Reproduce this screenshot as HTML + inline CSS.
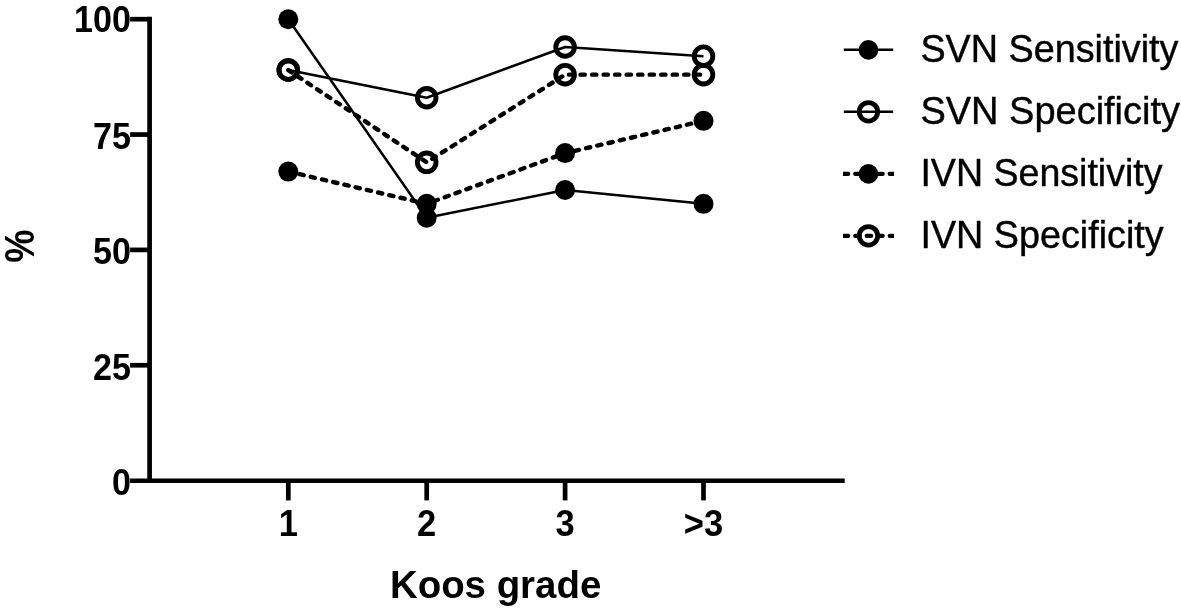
<!DOCTYPE html>
<html lang="en"><head><meta charset="utf-8"><title>Koos grade chart</title>
<style>html,body{margin:0;padding:0;background:#fff;}svg{display:block;}</style></head>
<body>
<svg width="1181" height="612" viewBox="0 0 1181 612">
<rect width="1181" height="612" fill="#fff"/>
<defs><clipPath id="lc"><rect x="842.9" y="0" width="51.1" height="612"/></clipPath></defs>
<g stroke="#000" stroke-width="4.7" fill="none" stroke-linecap="butt">
<line x1="149.6" y1="16.85" x2="149.6" y2="483.1"/>
<line x1="130.1" y1="480.75" x2="844.7" y2="480.75"/>
<line x1="130.1" y1="19.2" x2="149.6" y2="19.2"/>
<line x1="130.1" y1="134.55" x2="149.6" y2="134.55"/>
<line x1="130.1" y1="249.9" x2="149.6" y2="249.9"/>
<line x1="130.1" y1="365.25" x2="149.6" y2="365.25"/>
<line x1="288.3" y1="480.75" x2="288.3" y2="500.4"/>
<line x1="426.7" y1="480.75" x2="426.7" y2="500.4"/>
<line x1="565.1" y1="480.75" x2="565.1" y2="500.4"/>
<line x1="703.5" y1="480.75" x2="703.5" y2="500.4"/>
</g>
<polyline points="288.3,19.3 426.7,217.7 565.1,190.02 703.5,203.86" fill="none" stroke="#000" stroke-width="2.5" stroke-linejoin="round"/>
<polyline points="288.3,70.05 426.7,97.74 565.1,46.98 703.5,56.21" fill="none" stroke="#000" stroke-width="2.5" stroke-linejoin="round"/>
<polyline points="288.3,171.56 426.7,203.86 565.1,153.11 703.5,120.81" fill="none" stroke="#000" stroke-width="4.4" stroke-linecap="round" stroke-linejoin="round" stroke-dasharray="4.3 7.22"/>
<polyline points="288.3,70.05 426.7,162.33 565.1,74.67 703.5,74.67" fill="none" stroke="#000" stroke-width="4.4" stroke-linecap="round" stroke-linejoin="round" stroke-dasharray="4.3 7.22"/>
<circle cx="288.3" cy="19.3" r="10" fill="#000"/>
<circle cx="426.7" cy="217.7" r="10" fill="#000"/>
<circle cx="565.1" cy="190.02" r="10" fill="#000"/>
<circle cx="703.5" cy="203.86" r="10" fill="#000"/>
<circle cx="288.3" cy="70.05" r="9.3" fill="none" stroke="#000" stroke-width="4.9"/>
<circle cx="426.7" cy="97.74" r="9.3" fill="none" stroke="#000" stroke-width="4.9"/>
<circle cx="565.1" cy="46.98" r="9.3" fill="none" stroke="#000" stroke-width="4.9"/>
<circle cx="703.5" cy="56.21" r="9.3" fill="none" stroke="#000" stroke-width="4.9"/>
<circle cx="288.3" cy="171.56" r="10" fill="#000"/>
<circle cx="426.7" cy="203.86" r="10" fill="#000"/>
<circle cx="565.1" cy="153.11" r="10" fill="#000"/>
<circle cx="703.5" cy="120.81" r="10" fill="#000"/>
<circle cx="288.3" cy="70.05" r="9.3" fill="none" stroke="#000" stroke-width="4.9"/>
<circle cx="426.7" cy="162.33" r="9.3" fill="none" stroke="#000" stroke-width="4.9"/>
<circle cx="565.1" cy="74.67" r="9.3" fill="none" stroke="#000" stroke-width="4.9"/>
<circle cx="703.5" cy="74.67" r="9.3" fill="none" stroke="#000" stroke-width="4.9"/>
<g font-family="'Liberation Sans', Arial, Helvetica, sans-serif" font-weight="bold" font-size="35" fill="#000">
<text transform="translate(131,32.4) scale(0.975,1.065)" text-anchor="end">100</text>
<text transform="translate(131,149.05) scale(0.975,1.065)" text-anchor="end">75</text>
<text transform="translate(131,263.5) scale(0.975,1.065)" text-anchor="end">50</text>
<text transform="translate(131,379.65) scale(0.975,1.065)" text-anchor="end">25</text>
<text transform="translate(131,494.7) scale(0.975,1.065)" text-anchor="end">0</text>
<text transform="translate(288.3,535.5) scale(0.985,1.05)" text-anchor="middle">1</text>
<text transform="translate(426.7,535.5) scale(0.985,1.05)" text-anchor="middle">2</text>
<text transform="translate(565.1,535.5) scale(0.985,1.05)" text-anchor="middle">3</text>
<text transform="translate(703.5,535.5) scale(0.985,1.05)" text-anchor="middle">&gt;3</text>
</g>
<g font-family="'Liberation Sans', Arial, Helvetica, sans-serif" font-weight="bold" font-size="38.5" fill="#000">
<text transform="translate(495.6,597.8) scale(0.998,1.025)" text-anchor="middle">Koos grade</text>
<text transform="translate(33.5,246.2) rotate(-90) scale(0.97,1.12)" text-anchor="middle">%</text>
</g>
<line x1="843.8" y1="49.85" x2="893.2" y2="49.85" stroke="#000" stroke-width="2.5"/>
<circle cx="868.45" cy="49.85" r="9.85" fill="#000"/>
<line x1="843.8" y1="111.85" x2="893.2" y2="111.85" stroke="#000" stroke-width="2.5"/>
<circle cx="868.45" cy="111.85" r="9.25" fill="none" stroke="#000" stroke-width="4.8"/>
<line x1="843.8" y1="173.85" x2="896" y2="173.85" stroke="#000" stroke-width="4.4" stroke-linecap="round" stroke-dasharray="4.3 7.2" clip-path="url(#lc)"/>
<circle cx="868.45" cy="173.85" r="9.85" fill="#000"/>
<line x1="843.8" y1="235.85" x2="896" y2="235.85" stroke="#000" stroke-width="4.4" stroke-linecap="round" stroke-dasharray="4.3 7.2" clip-path="url(#lc)"/>
<circle cx="868.45" cy="235.85" r="9.25" fill="none" stroke="#000" stroke-width="4.8"/>
<g font-family="'Liberation Sans', Arial, Helvetica, sans-serif" font-size="38" fill="#000" stroke="#000" stroke-width="0.4" stroke-linejoin="round" style="font-kerning:none">
<text transform="translate(920.4,61.85) scale(0.994,1.04)">SVN Sensitivity</text>
<text transform="translate(920.4,123.85) scale(1.0,1.04)">SVN Specificity</text>
<text transform="translate(920.4,185.85) scale(0.989,1.04)">IVN Sensitivity</text>
<text transform="translate(920.4,247.85) scale(0.9935,1.04)">IVN Specificity</text>
</g>
</svg>
</body></html>
